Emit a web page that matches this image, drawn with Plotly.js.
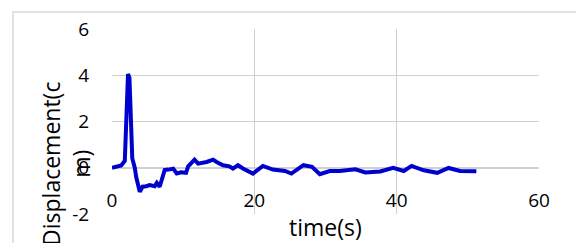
<!DOCTYPE html>
<html><head><meta charset="utf-8">
<script src="https://cdn.plot.ly/plotly-3.0.1.min.js"></script>
<style>html,body{margin:0;padding:0;background:#fff;}#chart{width:576px;height:243px;}</style>
</head><body><div id="chart"></div>
<script>
const timeS = [0, 1.3, 1.8, 2.25, 2.45, 2.85, 3.2, 3.4, 3.9, 4.3, 4.8, 5.3, 6.0, 6.3, 6.7, 7.4, 7.9, 8.6, 9.1, 9.7, 10.4, 10.7, 11.6, 12.1, 13.3, 14.2, 14.7, 15.6, 16.5, 17.0, 17.7, 18.4, 19.8, 21.2, 22.6, 24.3, 25.2, 26.9, 28.1, 29.2, 30.6, 32.0, 34.2, 35.6, 37.7, 39.5, 41.0, 42.1, 43.8, 45.7, 47.3, 48.9, 51.2];
const displacementCm = [0, 0.1, 0.3, 4.05, 3.9, 0.4, 0.0, -0.4, -1.04, -0.82, -0.8, -0.75, -0.8, -0.65, -0.82, -0.1, -0.08, -0.04, -0.25, -0.2, -0.22, 0.06, 0.35, 0.18, 0.25, 0.35, 0.25, 0.11, 0.06, -0.04, 0.11, -0.03, -0.25, 0.08, -0.08, -0.14, -0.25, 0.11, 0.04, -0.28, -0.14, -0.14, -0.07, -0.2, -0.16, 0.0, -0.14, 0.08, -0.11, -0.22, -0.01, -0.14, -0.15];
const xTicks = [0, 20, 40, 60];
const yTicks = [-2, 0, 2, 4, 6];
const font = "'Open Sans', 'Liberation Sans', Arial, sans-serif";
Plotly.newPlot('chart', [{
  x: timeS, y: displacementCm, type: 'scatter', mode: 'lines',
  line: {color: '#0000CC', width: 4}, hoverinfo: 'skip'
}], {
  width: 576, height: 243,
  margin: {l: 112, r: 37, t: 29, b: 29},
  paper_bgcolor: '#fff', plot_bgcolor: '#fff',
  showlegend: false,
  font: {family: font, color: '#000', size: 19},
  xaxis: {range: [0, 60], tickvals: xTicks, ticktext: xTicks.map(String),
    showgrid: true, gridcolor: '#d0d0d0', gridwidth: 1.5, zeroline: false,
    showline: false, ticks: '', ticklabelposition: 'inside', ticklabeloverflow: 'allow',
    tickfont: {size: 19, family: font, color: '#000'}},
  yaxis: {range: [-2, 6], tickvals: yTicks, ticktext: yTicks.map(String),
    showgrid: true, gridcolor: '#d0d0d0', gridwidth: 1.5, zeroline: true, zerolinecolor: '#d0d0d0', zerolinewidth: 1.5,
    showline: false, ticks: 'outside', ticklen: 18, tickcolor: 'rgba(0,0,0,0)',
    tickfont: {size: 19, family: font, color: '#000'}},
  shapes: [{type: 'path', xref: 'paper', yref: 'paper',
    path: 'M -0.232 -0.3 L -0.232 1.092 L 1.2 1.092', line: {color: '#d9d9d9', width: 1.5}}],
  annotations: [
    {text: 'time(s)', xref: 'paper', yref: 'paper', x: 0.5, y: -0.072, xanchor: 'center', yanchor: 'middle',
     showarrow: false, font: {size: 23, family: font, color: '#000'}},
    {text: 'Displacement(c<br>m)', xref: 'paper', yref: 'paper', x: -0.108, y: 0.27, xanchor: 'center', yanchor: 'middle',
     textangle: -90, showarrow: false, font: {size: 23, family: font, color: '#000'}}
  ]
}, {displayModeBar: false, staticPlot: true});
</script></body></html>
